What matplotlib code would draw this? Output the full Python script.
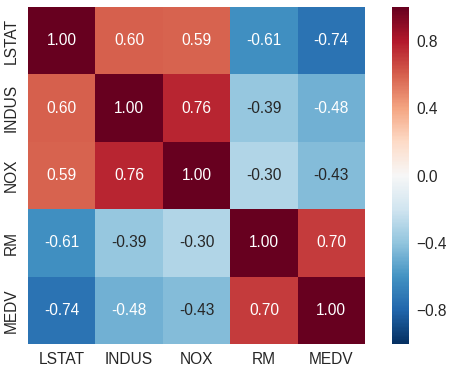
import matplotlib
matplotlib.use("Agg")
import matplotlib.pyplot as plt
import numpy as np
import seaborn as sns

labels = ["LSTAT", "INDUS", "NOX", "RM", "MEDV"]
corr = [
    [1.00, 0.60, 0.59, -0.61, -0.74],
    [0.60, 1.00, 0.76, -0.39, -0.48],
    [0.59, 0.76, 1.00, -0.30, -0.43],
    [-0.61, -0.39, -0.30, 1.00, 0.70],
    [-0.74, -0.48, -0.43, 0.70, 1.00],
]
cbar_ticks = [-0.8, -0.4, 0.0, 0.4, 0.8]

sns.set_theme(style="white", font_scale=1.5)
plt.rcParams['font.family'] = ['Liberation Sans', 'DejaVu Sans']
plt.rcParams['text.color'] = '#262626'
plt.rcParams['xtick.color'] = '#262626'
plt.rcParams['ytick.color'] = '#262626'

W, H = 452, 372
fig = plt.figure(figsize=(W / 72, H / 72), dpi=72)
ax = fig.add_axes([28 / W, (H - 344) / H, 337 / W, 337 / H])
cax = fig.add_axes([392 / W, (H - 344) / H, 17 / W, 337 / H])

sns.heatmap(np.array(corr), ax=ax, cbar_ax=cax, cmap="RdBu_r", vmin=-1, vmax=1,
            annot=True, fmt=".2f", annot_kws={"size": 15.5},
            xticklabels=labels, yticklabels=labels,
            cbar_kws={"ticks": cbar_ticks})
ax.tick_params(axis='x', labelsize=15.5, length=0, pad=8)
ax.tick_params(axis='y', labelsize=15.5, length=0, pad=9)
cax.tick_params(labelsize=15.5, length=0, pad=7)
cax.set_yticklabels(["\u22120.8", "\u22120.4", "0.0", "0.4", "0.8"])
for sp in cax.spines.values():
    sp.set_visible(False)

fig.savefig("out.png", dpi=72)
